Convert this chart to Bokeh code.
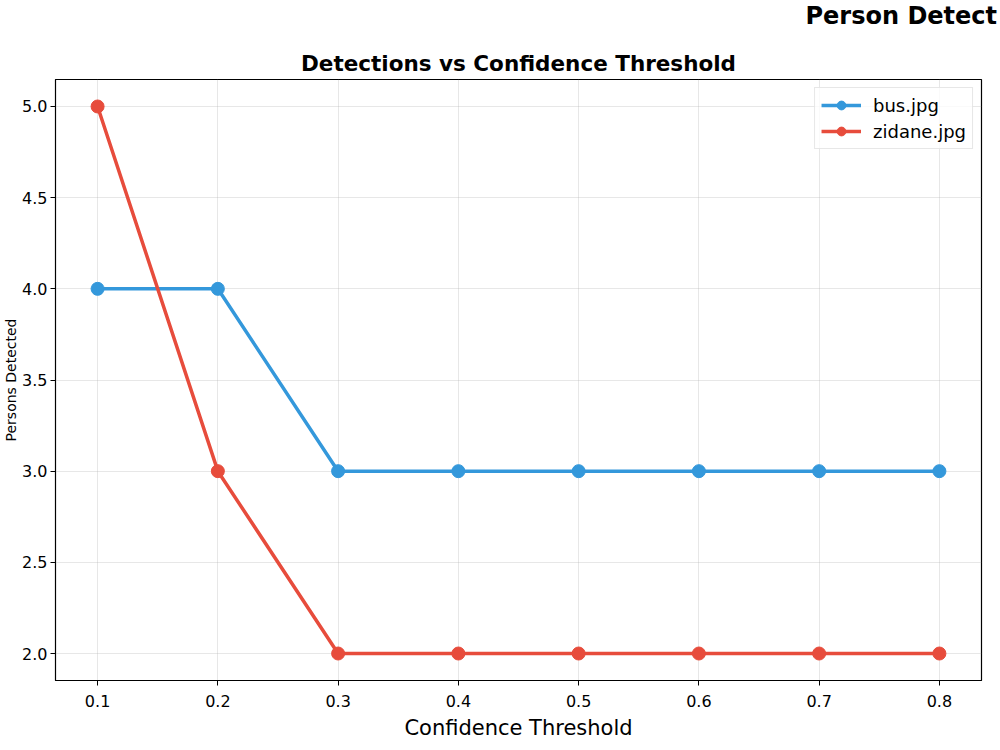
from bokeh.plotting import figure
from bokeh.models import Title, Range1d, Legend, LegendItem, FixedTicker
from bokeh.embed import file_html
from bokeh.resources import INLINE

thresholds = [0.1, 0.2, 0.3, 0.4, 0.5, 0.6, 0.7, 0.8]
bus_counts = [4, 4, 3, 3, 3, 3, 3, 3]
zidane_counts = [5, 3, 2, 2, 2, 2, 2, 2]
y_ticks = [2.0, 2.5, 3.0, 3.5, 4.0, 4.5, 5.0]

BLUE = "#3498db"
RED = "#e74c3c"
FONT = "DejaVu Sans"

p = figure(width=1000, height=750, output_backend="svg", toolbar_location=None,
           x_range=Range1d(0.065, 0.835), y_range=Range1d(1.852, 5.148),
           min_border_left=55, min_border_right=19, min_border_top=79,
           min_border_bottom=70, title=None)
p.background_fill_color = "white"
p.border_fill_color = "white"
p.outline_line_color = "black"
p.outline_line_width = 1.2

# titles (inner first)
t1 = Title(text="Detections vs Confidence Threshold", align="center",
           text_font=FONT, text_font_size="21.5px", text_font_style="bold",
           text_color="black", standoff=8)
p.add_layout(t1, "above")
spacer = Title(text=" ", text_font=FONT, text_font_size="8px", standoff=2)
p.add_layout(spacer, "above")
t2 = Title(text="Person Detect", align="left", offset=750, vertical_align="top",
           text_font=FONT, text_font_size="24px", text_font_style="bold",
           text_color="black", standoff=0)
p.add_layout(t2, "above")

# axes
p.xaxis.ticker = FixedTicker(ticks=thresholds)
p.yaxis.ticker = FixedTicker(ticks=y_ticks)
p.xaxis.major_label_overrides = {t: f"{t:.1f}" for t in thresholds}
p.yaxis.major_label_overrides = {t: f"{t:.1f}" for t in y_ticks}
for ax in (p.xaxis, p.yaxis):
    ax.major_label_text_font = FONT
    ax.major_label_text_font_size = "16px"
    ax.major_label_text_color = "black"
    ax.axis_label_text_font = FONT
    ax.axis_label_text_font_style = "normal"
    ax.axis_label_text_color = "black"
    ax.major_tick_in = 0
    ax.major_tick_out = 5
    ax.minor_tick_line_color = None
    ax.axis_line_color = "black"
    ax.major_tick_line_color = "black"
p.xaxis.axis_label = "Confidence Threshold"
p.yaxis.axis_label = "Persons Detected"
p.xaxis.axis_label_text_font_size = "21px"
p.yaxis.axis_label_text_font_size = "14px"
p.xaxis.major_label_standoff = 9
p.yaxis.major_label_standoff = 3
p.xaxis.axis_label_standoff = 6
p.yaxis.axis_label_standoff = 0

p.grid.grid_line_color = "#b0b0b0"
p.grid.grid_line_alpha = 0.3
p.grid.grid_line_width = 1

# data
l1 = p.line(thresholds, bus_counts, line_color=BLUE, line_width=3.5)
c1 = p.scatter(thresholds, bus_counts, size=13, fill_color=BLUE, line_color=BLUE)
l2 = p.line(thresholds, zidane_counts, line_color=RED, line_width=3.5)
c2 = p.scatter(thresholds, zidane_counts, size=13, fill_color=RED, line_color=RED)

legend = Legend(items=[LegendItem(label="bus.jpg", renderers=[l1, c1]),
                       LegendItem(label="zidane.jpg", renderers=[l2, c2])],
                location="top_right")
legend.label_text_font = FONT
legend.label_text_font_size = "18px"
legend.label_text_color = "black"
legend.border_line_color = "#d0d0d0"
legend.border_line_width = 1
legend.background_fill_alpha = 0.8
legend.glyph_width = 40
legend.glyph_height = 22
legend.spacing = 4
legend.padding = 6
legend.margin = 8
legend.label_standoff = 12
p.add_layout(legend, "center")

open("out.html", "w").write(file_html(p, INLINE))
